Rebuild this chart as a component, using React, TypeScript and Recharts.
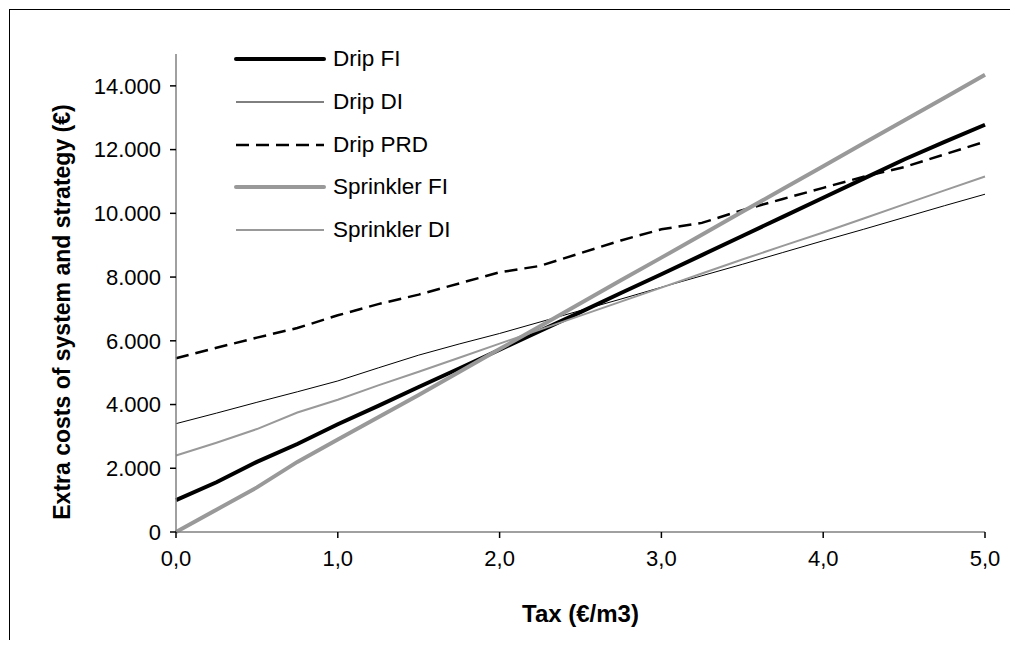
import { LineChart, Line, XAxis, YAxis } from 'recharts'

// tax levels (€/m3)
const taxes = [0, 0.25, 0.5, 0.75, 1, 1.25, 1.5, 1.75, 2, 2.25, 2.5, 2.75, 3, 3.25, 3.5, 3.75, 4, 4.25, 4.5, 4.75, 5]

// extra costs per system / strategy
const dripFI = [1000, 1560, 2200, 2760, 3380, 3960, 4550, 5130, 5720, 6310, 6900, 7500, 8090, 8690, 9290, 9890, 10490, 11090, 11690, 12240, 12780]
const dripDI = [3400, 3730, 4070, 4400, 4740, 5150, 5550, 5900, 6230, 6590, 6950, 7310, 7680, 8040, 8400, 8770, 9140, 9500, 9870, 10240, 10600]
const dripPRD = [5450, 5780, 6100, 6400, 6800, 7150, 7450, 7800, 8150, 8350, 8750, 9150, 9500, 9700, 10100, 10450, 10800, 11150, 11450, 11850, 12250]
const sprinklerFI = [0, 700, 1400, 2200, 2900, 3600, 4300, 5020, 5740, 6460, 7180, 7900, 8610, 9330, 10050, 10760, 11480, 12200, 12910, 13630, 14350]
const sprinklerDI = [2400, 2800, 3230, 3750, 4150, 4600, 5030, 5470, 5910, 6350, 6790, 7230, 7670, 8110, 8550, 8980, 9400, 9840, 10280, 10720, 11157]

const xTicks = [0, 1, 2, 3, 4, 5]
const yTicks = [0, 2000, 4000, 6000, 8000, 10000, 12000, 14000]

const data = taxes.map((t, i) => ({
  tax: t,
  dripFI: dripFI[i],
  dripDI: dripDI[i],
  dripPRD: dripPRD[i],
  sprinklerFI: sprinklerFI[i],
  sprinklerDI: sprinklerDI[i],
}))

const series = [
  { key: 'dripFI', name: 'Drip FI', color: '#000', width: 4, dash: undefined },
  { key: 'dripDI', name: 'Drip DI', color: '#000', width: 1, dash: undefined },
  { key: 'dripPRD', name: 'Drip PRD', color: '#000', width: 2.5, dash: '13 7' },
  { key: 'sprinklerFI', name: 'Sprinkler FI', color: '#999', width: 4, dash: undefined },
  { key: 'sprinklerDI', name: 'Sprinkler DI', color: '#999', width: 2, dash: undefined },
]

const font = '"Liberation Sans", Arial, sans-serif'

const fmtY = (v: number) => String(v).replace(/\B(?=(\d{3})+(?!\d))/g, '.')
const fmtX = (v: number) => v.toFixed(1).replace('.', ',')

// legend sits inside the plot, top left, like the original
function LegendBox() {
  return (
    <div style={{ position: 'absolute', left: 224, top: 28, fontFamily: font, fontSize: 22.5, color: '#000' }}>
      {series.map(s => (
        <div key={s.key} style={{ display: 'flex', alignItems: 'center', height: 42.7 }}>
          <svg width={99} height={20}>
            <line x1={2} y1={10} x2={90} y2={10} stroke={s.color} strokeWidth={s.width}
              strokeDasharray={s.dash} strokeLinecap={s.width >= 4 ? 'round' : 'butt'} />
          </svg>
          <span>{s.name}</span>
        </div>
      ))}
    </div>
  )
}

export default function App() {
  return (
    <div style={{ position: 'relative', marginLeft: 1, marginTop: 1, borderLeft: '1px solid #000', borderTop: '1px solid #000', width: 1000, height: 630 }}>
      <LineChart width={1000} height={630} data={data} margin={{ top: 44, right: 25, left: 0, bottom: 0 }}>
        <XAxis
          dataKey="tax"
          type="number"
          domain={[0, 5]}
          ticks={xTicks}
          tickFormatter={fmtX}
          height={108}
          stroke="#808080"
          strokeWidth={1.5}
          tickSize={6}
          tickMargin={12}
          tickLine={{ stroke: '#000' }}
          tick={{ fontSize: 22, fill: '#000', fontFamily: font }}
          label={({ viewBox }: any) => (
            <text x={viewBox.x + viewBox.width / 2} y={viewBox.y + 81} textAnchor="middle" dominantBaseline="central"
              fontFamily={font} fontWeight="bold" fontSize={24} fill="#000">Tax (€/m3)</text>
          )}
        />
        <YAxis
          type="number"
          domain={[0, 15000]}
          ticks={yTicks}
          tickFormatter={fmtY}
          width={166}
          stroke="#808080"
          strokeWidth={1.5}
          tickSize={6}
          tickMargin={9}
          tickLine={{ stroke: '#000' }}
          tick={{ fontSize: 22, fill: '#000', fontFamily: font }}
          label={({ viewBox }: any) => (
            <text x={viewBox.x + 52} y={302} textAnchor="middle" dominantBaseline="central"
              transform={`rotate(-90, ${viewBox.x + 52}, 302)`}
              fontFamily={font} fontWeight="bold" fontSize={23} fill="#000">Extra costs of system and strategy (€)</text>
          )}
        />
        {series.map(s => (
          <Line
            key={s.key}
            type="linear"
            dataKey={s.key}
            name={s.name}
            stroke={s.color}
            strokeWidth={s.width}
            strokeDasharray={s.dash}
            dot={false}
            activeDot={false}
            isAnimationActive={false}
          />
        ))}
      </LineChart>
      <LegendBox />
    </div>
  )
}
